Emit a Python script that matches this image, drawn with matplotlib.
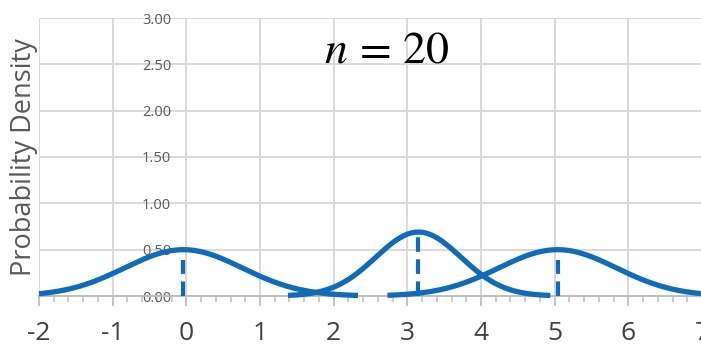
import numpy as np
import matplotlib
matplotlib.use("Agg")
import matplotlib.pyplot as plt
from matplotlib.ticker import MultipleLocator

# normal curves: mean, peak height, x-range drawn
means = [-0.04, 3.15, 5.04]
peaks = [0.50, 0.69, 0.50]
x_from = [-2.0, 1.38, 2.73]
x_to = [2.33, 4.94, 7.2]
# dashed marker heights at each mean
mark_heights = [0.39, 0.68, 0.39]

x_ticks = [-2, -1, 0, 1, 2, 3, 4, 5, 6, 7]
x_labels = ["-2", "-1", "0", "1", "2", "3", "4", "5", "6", "7"]
y_ticks = [0.0, 0.5, 1.0, 1.5, 2.0, 2.5, 3.0]
y_labels = ["0.00", "0.50", "1.00", "1.50", "2.00", "2.50", "3.00"]

blue = "#0f6cbd"
grid = "#d9d9d9"

plt.rcParams["font.family"] = ["Open Sans", "DejaVu Sans"]
plt.rcParams["mathtext.fontset"] = "stix"

fig = plt.figure(figsize=(7.01, 3.49), dpi=100)
ax = fig.add_axes([39 / 701, 53 / 349, 663 / 701, 278 / 349])

for m, p, a, b in zip(means, peaks, x_from, x_to):
    sd = 1 / (p * np.sqrt(2 * np.pi))
    xs = np.linspace(a, b, 400)
    ys = p * np.exp(-0.5 * ((xs - m) / sd) ** 2)
    ax.plot(xs, ys, color=blue, lw=3.8, solid_capstyle="butt", clip_on=False, zorder=3)

for m, h in zip(means, mark_heights):
    ax.plot([m, m], [0, h], color=blue, lw=3.0, linestyle=(0, (3.5, 1.8)),
            clip_on=False, zorder=3)

ax.set_xlim(-2, 7)
ax.set_ylim(0, 3)

ax.set_xticks(x_ticks)
ax.set_xticklabels(x_labels)
ax.xaxis.set_minor_locator(MultipleLocator(0.2))
ax.set_yticks(y_ticks)
ax.set_yticklabels(y_labels)

ax.grid(True, which="major", color=grid, lw=1.4, zorder=0)
ax.set_axisbelow(True)

for s in ["top", "right"]:
    ax.spines[s].set_visible(False)
ax.spines["left"].set_position(("data", 0))
ax.spines["left"].set_visible(False)
ax.spines["bottom"].set_color("#bfbfbf")
ax.spines["bottom"].set_linewidth(1.4)

ax.tick_params(axis="x", which="major", length=7, width=1.3, color="#bfbfbf",
               labelsize=19, labelcolor="#404040", pad=11)
ax.tick_params(axis="x", which="minor", length=4, width=1.1, color="#bfbfbf")
ax.tick_params(axis="y", length=0, labelsize=10.5, labelcolor="#595959", pad=11)

ax.set_ylabel("Probability Density", fontsize=19.5, color="#595959")
ax.yaxis.set_label_coords(-0.002, 0.5)

ax.text(2.72, 2.65, r"$n\,=\,20$", fontsize=33, ha="center", va="center", color="black")

fig.savefig("out.png", dpi=100)
